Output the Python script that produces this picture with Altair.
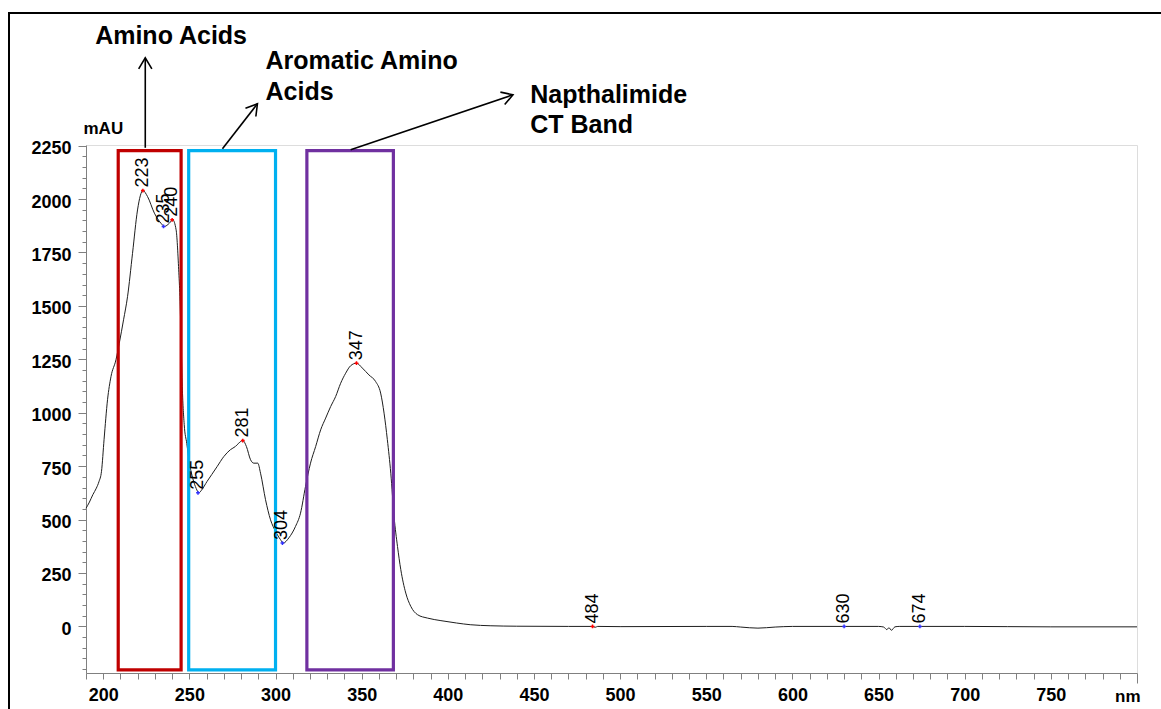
import altair as alt
import pandas as pd

FONT = "Liberation Sans"

# ---- spectrum ----
wavelength_nm = [190, 192, 194, 196, 197.5, 199, 200.5, 202.5, 204.5, 207.4, 209.3, 211.8, 214.1,
                 217, 219.9, 221.5, 223, 225.7, 229.7, 233.5, 235.5, 238.4, 240.3, 242.3, 243.8,
                 244.5, 245.2, 245.8, 247, 248.5, 250, 252, 254, 255.5, 257, 260.3, 263, 266.1,
                 270, 273.8, 276.7, 278.7, 281, 283.1, 285.5, 287.4, 289.7, 291.3, 294.2, 297.1,
                 300, 302.9, 304.5, 307.7, 311.6, 314.5, 317.4, 320.3, 323.3, 326.2, 329.1, 332,
                 334.9, 337.8, 340.7, 343.6, 347, 350.4, 354.2, 358.1, 361, 363, 364.9, 366.9,
                 368.8, 370.8, 372.7, 375.6, 378.5, 382.4, 388.2, 396, 405, 413, 425, 440, 470,
                 484, 485.5, 487, 500, 550, 565, 570, 580, 590, 600, 630, 650, 653, 654.8, 656,
                 657.5, 659.5, 662, 674, 700, 750, 800]
absorbance_mau = [553, 582, 617, 647, 677, 726, 876, 1061, 1169, 1248, 1325, 1435, 1543,
                  1746, 1949, 2015, 2040, 2012, 1934, 1887, 1872, 1887, 1903, 1856, 1669,
                  1543, 1343, 1144, 945, 856, 766, 692, 645, 625, 637, 679, 711, 748,
                  795, 827, 842, 858, 870, 842, 780, 764, 764, 717, 593, 499,
                  445, 406, 390, 414, 468, 530, 655, 764, 842, 920, 975, 1029,
                  1076, 1138, 1185, 1220, 1232, 1209, 1177, 1146, 1092, 998, 874, 717,
                  514, 374, 266, 156, 94, 55, 39, 27, 16, 8, 3, 1, 0,
                  0, -4, 0, -1, 0, 0, -3, -8, -3, 0, 0, 0, -3, -15, -6,
                  -18, -2, 0, 0, 0, -2, -2]

# ---- peak labels ----
peak_nm = [223, 235, 240, 255, 281, 304, 347, 484, 630, 674]
peak_mau = [2040, 1872, 1903, 625, 870, 390, 1232, 0, 0, 0]
peak_kind = ["max", "min", "max", "min", "max", "min", "max", "max", "min", "min"]

# ---- highlighted bands ----
band_labels = ["Amino Acids", "Aromatic Amino Acids", "Napthalimide CT Band"]
band_start_nm = [208.7, 249.6, 318.2]
band_end_nm = [245.2, 300.0, 368.4]
band_low_mau = [-203, -203, -203]
band_high_mau = [2227, 2227, 2227]
band_colors = ["#C00000", "#00B0F0", "#7030A0"]

# ---- annotation texts and arrows ----
note_lines = ["Amino Acids", "Aromatic Amino", "Acids", "Napthalimide", "CT Band"]
note_nm = [195.3, 294.2, 294.2, 447.8, 447.8]
note_mau = [2727, 2610, 2465, 2451, 2311]

arrow_from_nm = [224.4, 269.2, 343.6]
arrow_from_mau = [2240, 2235, 2231]
arrow_to_nm = [224.4, 289.5, 437.8]
arrow_to_mau = [2661, 2446, 2488]
arrow_angle = [0, 38, 71]

# ---- axis ticks ----
x_ticks = list(range(190, 801, 10))
y_ticks = list(range(-200, 2251, 50))

spec = pd.DataFrame({"nm": wavelength_nm, "mAU": absorbance_mau})
peaks = pd.DataFrame({"nm": peak_nm, "mAU": peak_mau, "kind": peak_kind,
                      "label": [str(v) for v in peak_nm]})
bands = pd.DataFrame({"band": band_labels, "nm": band_start_nm, "x2": band_end_nm,
                      "mAU": band_low_mau, "y2": band_high_mau})
notes = pd.DataFrame({"text": note_lines, "nm": note_nm, "mAU": note_mau})
arrows = pd.DataFrame({"nm": arrow_from_nm, "mAU": arrow_from_mau,
                       "x2": arrow_to_nm, "y2": arrow_to_mau, "ang": arrow_angle})

xs = alt.Scale(domain=[190, 800], nice=False, zero=False)
ys = alt.Scale(domain=[-218, 2253], nice=False, zero=False)

GRAY = "#808080"

x_axis = alt.Axis(values=x_ticks, format="d",
                  labelExpr="(datum.value % 50 == 0 && datum.value < 800) ? datum.label : ''",
                  tickSize={"condition": {"test": "datum.value == 800", "value": 10}, "value": 6},
                  labelPadding=7, labelFontSize=18, labelFontWeight="bold",
                  labelFont=FONT, labelColor="black", domainColor=GRAY, tickColor=GRAY,
                  grid=False, labelFlush=False, labelOverlap=False, orient="bottom",
                  title="nm", titleX=1054, titleY=28, titleAlign="right",
                  titleBaseline="alphabetic", titleFontSize=17, titleFontWeight="bold",
                  titleFont=FONT, titleColor="black")
y_axis = alt.Axis(values=y_ticks, format="d",
                  labelExpr="(datum.value % 250 == 0 && datum.value >= 0) ? datum.label : ''",
                  tickSize={"condition": {"test": "datum.value % 250 == 0", "value": 8}, "value": 4},
                  labelPadding=7, labelOffset=3,
                  labelFontSize=18, labelFontWeight="bold", labelFont=FONT,
                  labelColor="black", domainColor=GRAY, tickColor=GRAY, grid=False,
                  labelFlush=False, labelOverlap=False, orient="left",
                  title="mAU", titleAngle=0, titleX=-3, titleY=-12, titleAlign="left",
                  titleBaseline="alphabetic", titleFontSize=17, titleFontWeight="bold",
                  titleFont=FONT, titleColor="black")

X = alt.X("nm:Q", scale=xs, axis=x_axis, title="nm")
Y = alt.Y("mAU:Q", scale=ys, axis=y_axis, title="mAU")

line = alt.Chart(spec).mark_line(color="#1e1e1e", strokeWidth=1, interpolate="monotone").encode(
    x=X, y=Y)

boxes = alt.Chart(bands).mark_rect(filled=False, strokeWidth=3.2).encode(
    x=X, x2="x2:Q", y=Y, y2="y2:Q",
    stroke=alt.Stroke("band:N", scale=alt.Scale(domain=band_labels, range=band_colors),
                      legend=None),
)

markers = alt.Chart(peaks).mark_point(shape="cross", size=14, filled=True, opacity=1).encode(
    x=X, y=Y,
    color=alt.Color("kind:N", scale=alt.Scale(domain=["max", "min"], range=["#FF0000", "#3030FF"]),
                    legend=None),
)

peak_text = alt.Chart(peaks).mark_text(angle=270, align="left", baseline="middle", dx=3,
                                       fontSize=18, font=FONT, color="black").encode(
    x=X, y=Y, text="label:N")

note_text = alt.Chart(notes).mark_text(align="left", baseline="alphabetic", fontSize=25,
                                       fontWeight="bold", font=FONT, color="black").encode(
    x=X, y=Y, text="text:N")

arrow_lines = alt.Chart(arrows).mark_rule(color="black", strokeWidth=1.6).encode(
    x=X, x2="x2:Q", y=Y, y2="y2:Q")

arrow_heads = alt.Chart(arrows).mark_point(shape="M-0.6,1 L0,0 L0.6,1", size=484, filled=False,
                                           strokeWidth=1.6, color="black", opacity=1).encode(
    x=alt.X("x2:Q", scale=xs, axis=x_axis, title="nm"),
    y=alt.Y("y2:Q", scale=ys, axis=y_axis, title="mAU"),
    angle=alt.Angle("ang:Q", scale=None),
)

frame_df = pd.DataFrame({"k": [0]})
frame_top = alt.Chart(frame_df).mark_rule(color="black", strokeWidth=2).encode(
    x=alt.value(-77), x2=alt.value(1100), y=alt.value(-132))
frame_left = alt.Chart(frame_df).mark_rule(color="black", strokeWidth=2).encode(
    x=alt.value(-77), y=alt.value(-133), y2=alt.value(600))

chart = alt.layer(line, boxes, markers, peak_text, note_text, arrow_lines, arrow_heads,
                  frame_top, frame_left).properties(
    width=1051, height=528,
    padding={"left": 86, "top": 145, "right": 24, "bottom": 36},
    autosize=alt.AutoSizeParams(type="none"),
    background="white",
).configure_view(stroke=GRAY, strokeWidth=1).configure(font=FONT)

chart.save("out.html", embed_options={"renderer": "svg", "actions": False})
